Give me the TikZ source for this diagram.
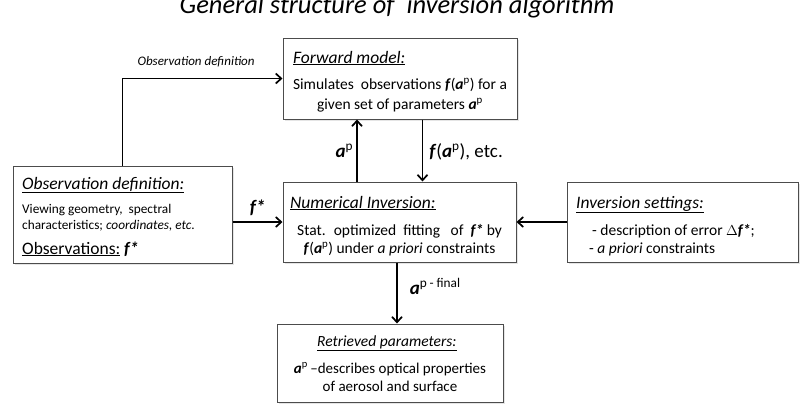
\documentclass[tikz,border=0pt]{standalone}
\usepackage{fontspec}
\setmainfont{Carlito}
\usetikzlibrary{arrows.meta,positioning,shadows}
\newcommand{\bi}[1]{\textbf{\textit{#1}}}
\newcommand{\ap}{\bi{a}\textsuperscript{p}}
\newcommand{\fst}{\bi{f*}}
\newcommand{\boxhead}[1]{\underline{\textit{#1}}}
\begin{document}
\begin{tikzpicture}[x=1pt, y=-1pt, >={Straight Barb[length=5.5pt,width=10pt]},
  box/.style={draw=black!70, fill=white, line width=1pt, inner sep=0pt,
    drop shadow={shadow xshift=1.5pt, shadow yshift=-1.5pt, fill=black!20}},
  head/.style={anchor=base west, inner sep=0pt, font=\fontsize{17.5}{20}\selectfont},
  txt/.style={anchor=base, inner sep=0pt, font=\fontsize{15.5}{18}\selectfont},
  flow/.style={->, line width=1.7pt},
  lbl/.style={inner sep=0pt, font=\fontsize{19}{21}\selectfont}]
  \useasboundingbox (0,0) rectangle (801,410);
  \clip (0,0) rectangle (801,410);
  \node[anchor=base, inner sep=0pt, font=\fontsize{26.5}{28}\selectfont\itshape] (title) at (397,13)
    {General structure of ~inversion algorithm};

  % boxes
  \node[box, minimum width=234, minimum height=81] (fwd) at (400,78.5) {};
  \node[box, minimum width=233, minimum height=80] (num) at (399.5,222) {};
  \node[box, minimum width=231, minimum height=80] (set) at (683,222) {};
  \node[box, minimum width=219, minimum height=97] (obs) at (122.5,214.5) {};
  \node[box, minimum width=226, minimum height=78] (ret) at (390,363) {};

  % forward model
  \node[head] (fwdh) at (293,63) {\boxhead{Forward model:}};
  \node[txt] (fwda) at (400,89) {Simulates ~observations \bi{f}(\ap) for a};
  \node[txt] (fwdb) at (400,109) {given set of parameters \ap};

  % numerical inversion
  \node[head] (numh) at (290,208) {\boxhead{Numerical Inversion:}};
  \node[txt] (numa) at (399.5,235) {Stat. ~optimized ~fitting ~ of ~\fst{} by};
  \node[txt] (numb) at (399.5,253) {\bi{f}(\ap) under \textit{a priori} constraints};

  % inversion settings
  \node[head] (seth) at (576,208) {\boxhead{Inversion settings:}};
  \node[txt, anchor=base west] (seta) at (592,235) {- description of error $\Delta$\fst;};
  \node[txt, anchor=base west] (setb) at (589,253) {- \textit{a priori} constraints};

  % observation definition
  \node[head] (obsh) at (22,189) {\boxhead{Observation definition:}};
  \node[txt, anchor=base west, font=\fontsize{13.3}{15}\selectfont] (obsa) at (22,213) {Viewing geometry, ~spectral};
  \node[txt, anchor=base west, font=\fontsize{13.3}{15}\selectfont] (obsb) at (22,229) {characteristics; \textit{coordinates, etc.}};
  \node[head] (obsc) at (22,254) {\underline{Observations:} \fst};

  % retrieved parameters
  \node[head, font=\fontsize{15.5}{18}\selectfont] (reth) at (317,346) {\boxhead{Retrieved parameters:}};
  \node[txt, font=\fontsize{15}{17}\selectfont] (reta) at (390,373) {\ap\,--describes optical properties};
  \node[txt, font=\fontsize{15}{17}\selectfont] (retb) at (390,391) {of aerosol and surface};

  % connectors
  \draw[flow] (obs.north) |- (fwd.west)
    node[pos=0.73, above=10.5pt, inner sep=0pt, font=\fontsize{13}{15}\selectfont\itshape] (obslbl) {Observation definition};
  \draw[flow] (obs.east |- num.west) -- (num.west)
    node[midway, lbl, anchor=base, yshift=9pt] (fslbl) {\fst};
  \draw[flow] (set.west) -- (num.east);
  \draw[flow] ([xshift=-42.5]num.north) -- ([xshift=-42.5]num.north |- fwd.south)
    node[midway, lbl, anchor=base east, xshift=-3pt, yshift=-6.5pt] (aplbl) {\ap};
  \draw[flow] ([xshift=22.5]fwd.south) -- ([xshift=22.5]fwd.south |- num.north)
    node[midway, lbl, anchor=base west, xshift=6pt, yshift=-6.5pt] (flbl) {\bi{f}(\ap), etc.};
  \draw[flow] ([xshift=-2.5]num.south) -- ([xshift=-2.5]num.south |- ret.north)
    node[midway, lbl, anchor=base west, xshift=12pt, yshift=-1pt] (finlbl) {\ap\textsuperscript{\,- final}};
\end{tikzpicture}
\end{document}
